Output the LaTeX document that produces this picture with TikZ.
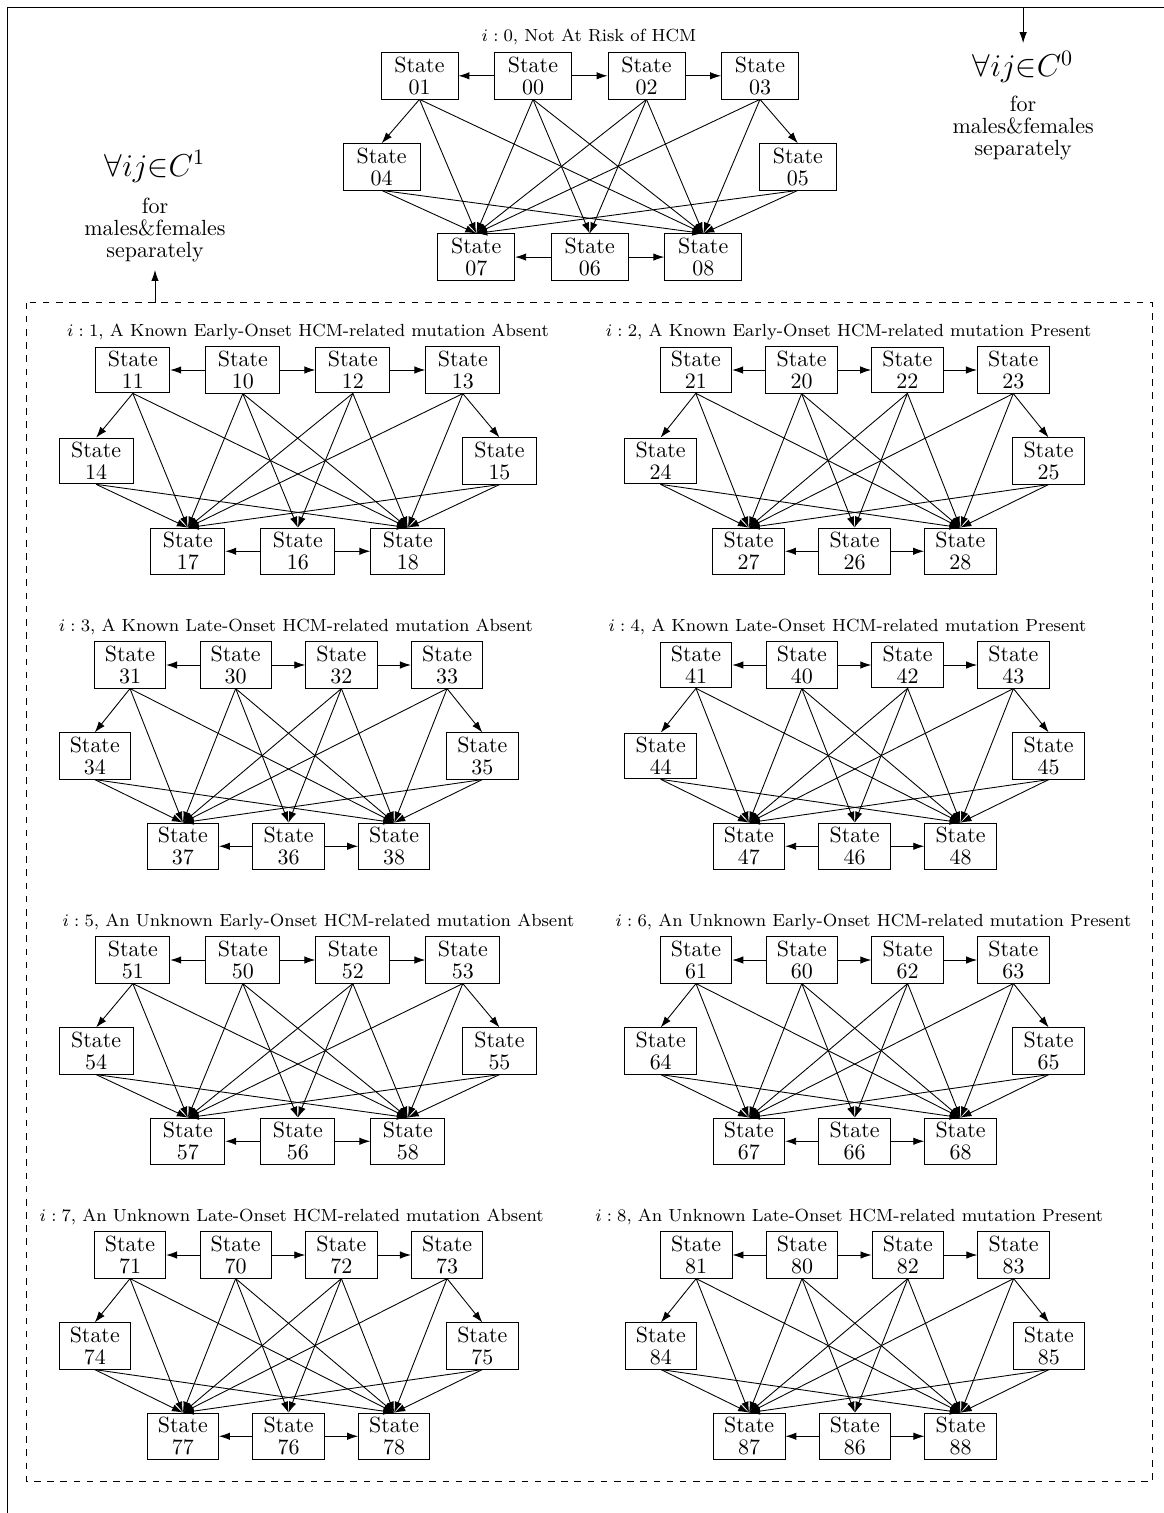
\documentclass[tikz,border=0pt]{standalone}
\usepackage{amsmath}
\usepackage{tikz}
\usetikzlibrary{arrows.meta, positioning}

\tikzset{
  state/.style={rectangle, draw=black, fill=white, text=black, align=center, on grid, inner ysep=1.9pt, font=\fontsize{10}{10}\selectfont},
  trans/.style={-{Latex[length=5pt,width=3.4pt]}},
  blocktitle/.style={text=black, font=\footnotesize},
  scope/.style={align=center, text=black, font=\fontsize{10}{10}\selectfont},
}

\begin{document}
\begin{tikzpicture}
    \useasboundingbox (0,0) rectangle (18.624,-24.208);
    \draw (0.112,-24.208) -- (0.112,-0.112) -- (18.624,-0.112);%outer frame
    \draw[dashed] (0.427,-4.843) rectangle (18.44,-23.704);%box round i = 1..8
    \coordinate (ftop) at (16.37,-0.112);%start of C0 arrow
    \coordinate (dtop) at (2.48,-4.843);%start of C1 arrow
    \node (czero) [scope, anchor=north] at (16.37,-0.69) {{\Large$\forall ij{\in}C^0$}\\[6pt]for\\males\&females\\separately};%C0 label
    \node (cone) [scope, anchor=south] at (2.48,-4.32) {{\Large$\forall ij{\in}C^1$}\\[7pt]for\\males\&females\\separately};%C1 label
    \draw[trans] (ftop) -- (czero);%frame to C0
    \draw[trans] (dtop) -- (cone);%dashed box to C1
    \foreach \i/\x/\y/\dx/\w/\tx/\ty/\ttl in {
      0/6.712/-1.213/1.816/1.232/9.424/-0.597/{$i:0$, Not At Risk of HCM},
      1/2.125/-5.92/1.76/1.184/4.928/-5.31/{$i:1$, A Known Early-Onset HCM-related mutation Absent},
      2/11.133/-5.92/1.693/1.147/13.579/-5.31/{$i:2$, A Known Early-Onset HCM-related mutation Present},
      3/2.08/-10.64/1.691/1.141/4.733/-10.03/{$i:3$, A Known Late-Onset HCM-related mutation Absent},
      4/11.136/-10.64/1.693/1.147/13.56/-10.03/{$i:4$, A Known Late-Onset HCM-related mutation Present},
      5/2.125/-15.36/1.76/1.184/5.096/-14.75/{$i:5$, An Unknown Early-Onset HCM-related mutation Absent},
      6/11.136/-15.36/1.693/1.147/13.976/-14.75/{$i:6$, An Unknown Early-Onset HCM-related mutation Present},
      7/2.08/-20.08/1.691/1.141/4.667/-19.47/{$i:7$, An Unknown Late-Onset HCM-related mutation Absent},
      8/11.139/-20.08/1.693/1.147/13.587/-19.47/{$i:8$, An Unknown Late-Onset HCM-related mutation Present}}{
      \pgfmathsetmacro\dthird{\dx/3}
      \pgfmathsetmacro\dhalf{\dx/2}
      \node (t\i) [blocktitle] at (\tx,\ty) {\ttl};%block title
      \node (s\i1) [state, minimum width=\w cm] at (\x,\y) {State\\\i1};%top row
      \node (s\i0) [state, minimum width=\w cm, right=\dx cm of s\i1] {State\\\i0};
      \node (s\i2) [state, minimum width=\w cm, right=\dx cm of s\i0] {State\\\i2};
      \node (s\i3) [state, minimum width=\w cm, right=\dx cm of s\i2] {State\\\i3};
      \node (s\i4) [state, minimum width=\w cm, below=1.456cm of s\i1, xshift=-\dthird cm] {State\\\i4};%middle row
      \node (s\i5) [state, minimum width=\w cm, below=1.456cm of s\i3, xshift=\dthird cm] {State\\\i5};
      \node (s\i7) [state, minimum width=\w cm, below=2.9cm of s\i1, xshift=\dhalf cm] {State\\\i7};%bottom row
      \node (s\i6) [state, minimum width=\w cm, right=\dx cm of s\i7] {State\\\i6};
      \node (s\i8) [state, minimum width=\w cm, right=\dx cm of s\i6] {State\\\i8};
      \foreach \a/\b in {0/1,0/2,2/3,6/7,6/8}
        \draw[trans] (s\i\a) -- (s\i\b);%side arrows
      \foreach \a/\b in {1/4,1/7,1/8,0/7,0/6,0/8,2/7,2/6,2/8,3/7,3/8,3/5,4/7,4/8,5/7,5/8}
        \draw[trans] (s\i\a.south) -- (s\i\b.north);%down arrows
    }
  \end{tikzpicture}
\end{document}
